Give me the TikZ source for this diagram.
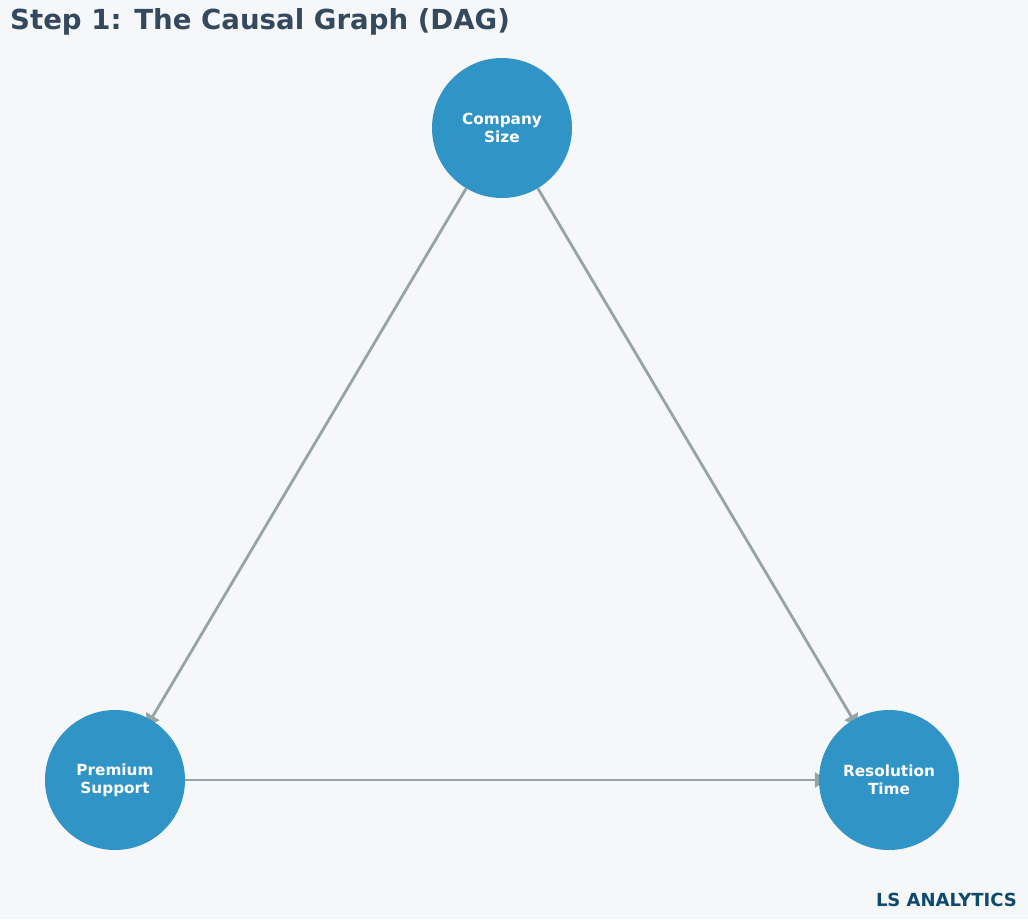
\documentclass[tikz,border=0pt]{standalone}
\usepackage{fontspec}
\setmainfont{DejaVu Sans}
\usetikzlibrary{arrows.meta}
\definecolor{bgc}{HTML}{F5F7F9}
\definecolor{nodec}{HTML}{3094C7}
\definecolor{edgec}{HTML}{95A5A6}
\definecolor{titlec}{HTML}{34495E}
\definecolor{footc}{HTML}{0D4A6B}
\pgfdeclarelayer{bg}
\pgfdeclarelayer{edges}
\pgfsetlayers{bg,edges,main}
\tikzset{
  var/.style={circle, fill=nodec, draw=none, minimum size=140pt, inner sep=0pt,
    text=white, align=center, font=\bfseries\fontsize{15.3}{18}\selectfont},
  link/.style={draw=edgec, line width=2.8pt, shorten >=-8pt,
    -{Triangle[length=12pt,width=15pt]}},
}
\begin{document}
\begin{tikzpicture}[x=1pt,y=-1pt]
\begin{pgfonlayer}{bg}
\fill[bgc] (0,0) rectangle (1028,919);
\end{pgfonlayer}
\useasboundingbox (0,0) rectangle (1028,919);
\node[anchor=west, inner sep=0pt, text=titlec, font=\bfseries\fontsize{27.6}{32}\selectfont] (title) at (10,22) {Step 1: The Causal Graph (DAG)};
\node[var] (cs) at (502,128) {Company\\Size};
\node[var] (ps) at (115,780) {Premium\\Support};
\node[var] (rt) at (889,780) {Resolution\\Time};
\node[anchor=east, inner sep=0pt, text=footc, font=\bfseries\fontsize{18}{20}\selectfont] (foot) at (1017,900) {LS ANALYTICS};
\begin{pgfonlayer}{edges}
\draw[link] (cs) -- (ps);
\draw[link] (cs) -- (rt);
\draw[link] (ps) -- (rt);
\end{pgfonlayer}
\end{tikzpicture}
\end{document}
